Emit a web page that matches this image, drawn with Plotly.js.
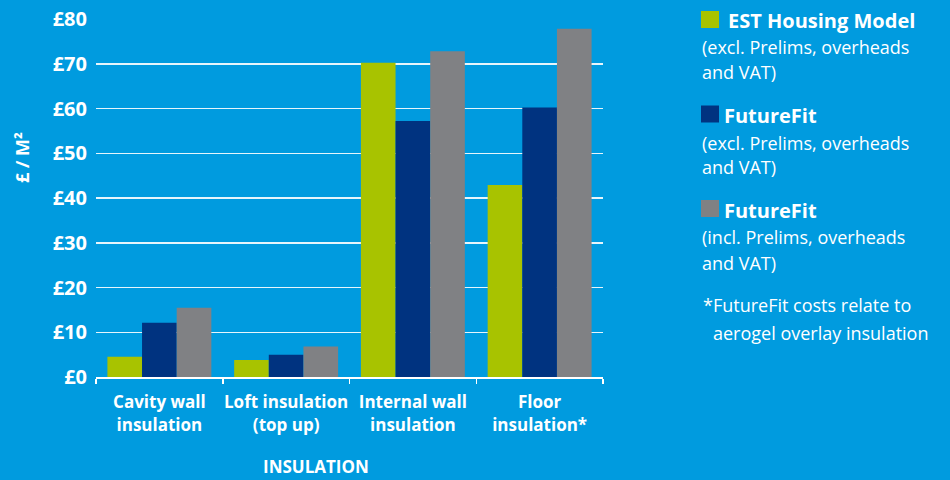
<!DOCTYPE html>
<html>
<head>
<meta charset="utf-8">
<script src="https://cdn.plot.ly/plotly-3.0.1.min.js"></script>
<style>html,body{margin:0;padding:0;background:#009bdf;}#chart{width:950px;height:480px;}</style>
</head>
<body>
<div id="chart"></div>
<script>
var categories = ["Cavity wall<br>insulation", "Loft insulation<br>(top up)", "Internal wall<br>insulation", "Floor<br>insulation*"];
var estHousing = [4.5, 3.8, 70.2, 42.9];
var futureFitExcl = [12.1, 5.0, 57.2, 60.2];
var futureFitIncl = [15.5, 6.8, 72.8, 77.8];
var seriesNames = ["EST Housing Model", "FutureFit", "FutureFit"];
var seriesNotes = [["(excl. Prelims, overheads", "and VAT)"], ["(excl. Prelims, overheads", "and VAT)"], ["(incl. Prelims, overheads", "and VAT)"]];
var colors = ["#a8c300", "#003380", "#808184"];
var footnoteLines = ["*FutureFit costs relate to", "aerogel overlay insulation"];

var BG = "#009bdf";
var FONT = "Open Sans, sans-serif";
var L = 96, R = 603, T = 19, B = 377;
function px(X){ return (X - L) / (R - L); }
function py(Y){ return (B - Y) / (B - T); }

var values = [estHousing, futureFitExcl, futureFitIncl];
var traces = values.map(function(v, i){
  return {type: "bar", x: categories, y: v, name: seriesNames[i],
          marker: {color: colors[i], line: {width: 0}}, hoverinfo: "none", showlegend: false};
});

function label(text, X, Y, size, bold, xa) {
  return {text: bold ? "<b>" + text + "</b>" : text, x: px(X), y: py(Y), xref: "paper", yref: "paper",
    xanchor: xa || "left", yanchor: "middle", showarrow: false, align: "left",
    font: {family: FONT, size: size, color: "white"}};
}

var annotations = [];
var yt = label("£ / M²", 22, 158, 18, true, "center");
yt.textangle = -90;
annotations.push(yt);
annotations.push(label("INSULATION", 316, 466, 17, true, "center"));

var shapes = [];
var squareY = [19.5, 114, 208.5];
var titleY = [20, 115, 210];
var noteY = [[47, 72], [143, 167], [237, 263]];
var titleX = [726, 722, 722];
for (var i = 0; i < 3; i++) {
  shapes.push({type: "rect", xref: "paper", yref: "paper", x0: px(701), x1: px(719),
    y0: py(squareY[i] - 8.5), y1: py(squareY[i] + 8.5), fillcolor: colors[i], line: {width: 0}});
  annotations.push(label(seriesNames[i], titleX[i], titleY[i], 20, true));
  for (var j = 0; j < 2; j++) {
    annotations.push(label(seriesNotes[i][j], 700, noteY[i][j], 18, false));
  }
}
annotations.push(label(footnoteLines[0], 701, 305, 18, false));
annotations.push(label(footnoteLines[1], 711, 333, 18, false));

var layout = {
  width: 950, height: 480,
  paper_bgcolor: BG, plot_bgcolor: BG,
  margin: {l: L, r: 950 - R, t: T, b: 480 - B, pad: 0},
  barmode: "group", bargap: 0.18, bargroupgap: 0,
  showlegend: false,
  font: {family: FONT, color: "white"},
  xaxis: {type: "category", showline: true, linecolor: "white", linewidth: 2,
    ticks: "outside", tickson: "boundaries", ticklen: 5, tickcolor: "white", tickwidth: 1.5,
    ticklabelstandoff: 9, tickangle: 0,
    tickfont: {family: FONT, size: 17, color: "white", weight: 700}, showgrid: false, zeroline: false},
  yaxis: {range: [0, 80], dtick: 10, tickprefix: "£", showgrid: true, gridcolor: "rgba(255,255,255,0.9)", gridwidth: 1.5,
    zeroline: false, showline: false, ticks: "", ticklabelstandoff: 8,
    tickfont: {family: FONT, size: 20, color: "white", weight: 700}},
  annotations: annotations,
  shapes: shapes
};
Plotly.newPlot("chart", traces, layout, {staticPlot: true, displayModeBar: false});
</script>
</body>
</html>
